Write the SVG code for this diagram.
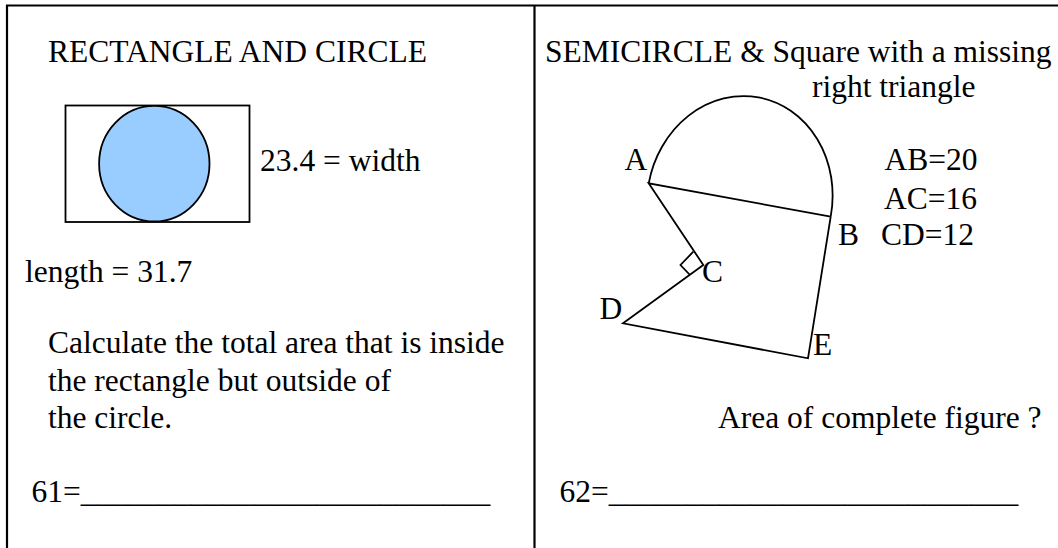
<svg xmlns="http://www.w3.org/2000/svg" width="1058" height="548" viewBox="0 0 1058 548">
<style>
  text { font-family: "Liberation Serif", "Times New Roman", serif; font-size: 31.5px; fill: #000; }
  .frame { stroke: #000; stroke-width: 2.2; fill: none; }
  .shape { stroke: #000; stroke-width: 1.8; fill: none; stroke-linejoin: miter; }
</style>
<rect x="0" y="0" width="1058" height="548" fill="#fff"/>
<g id="frame">
  <line class="frame" x1="6" y1="5.5" x2="1058" y2="5.5"/>
  <line class="frame" x1="7" y1="5" x2="7" y2="548"/>
  <line class="frame" x1="534.5" y1="5" x2="534.5" y2="548"/>
</g>
<g id="panel61">
  <text x="48" y="62">RECTANGLE AND CIRCLE</text>
  <g id="rectangle">
    <rect class="shape" x="65.5" y="105.5" width="184" height="116.5"/>
  </g>
  <g id="circle">
    <ellipse cx="154.3" cy="163.7" rx="55.2" ry="57.8" fill="#99CCFF" stroke="#000" stroke-width="1.8"/>
  </g>
  <text x="260" y="171">23.4 = width</text>
  <text x="25" y="282">length = 31.7</text>
  <text x="48" y="353">Calculate the total area that is inside</text>
  <text x="48" y="390.5">the rectangle but outside of</text>
  <text x="48" y="427.5">the circle.</text>
  <text x="31.5" y="501.5">61=__________________________</text>
</g>
<g id="panel62">
  <text x="545" y="62">SEMICIRCLE &amp; Square with a missing</text>
  <text x="812" y="96.5">right triangle</text>
  <g id="figure">
    <path class="shape" d="M648.7,183.3 A92.5,104.3 10.4 0 1 830.7,216.7"/>
    <polyline class="shape" points="830.7,216.7 648.7,183.3 703.3,265 623,323.3 808,358.3 830.7,216.7"/>
    <polyline class="shape" points="693.3,251.7 680.5,265 690,275"/>
  </g>
  <text x="624.5" y="170">A</text>
  <text x="838" y="245">B</text>
  <text x="702" y="282">C</text>
  <text x="599.5" y="318.5">D</text>
  <text x="813" y="355">E</text>
  <text x="884.5" y="170">AB=20</text>
  <text x="884" y="208.5">AC=16</text>
  <text x="881" y="245">CD=12</text>
  <text x="718" y="427.5">Area of complete figure ?</text>
  <text x="559.5" y="501.5">62=__________________________</text>
</g>
</svg>
